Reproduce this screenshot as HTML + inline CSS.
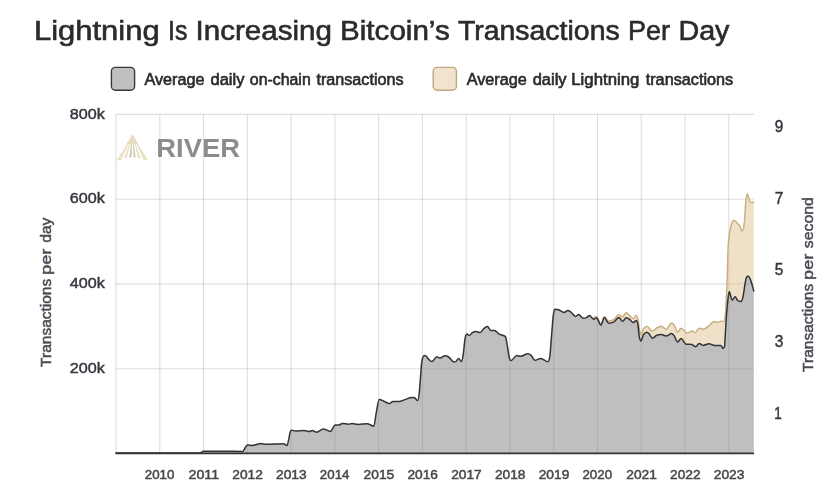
<!DOCTYPE html>
<html lang="en">
<head>
<meta charset="utf-8">
<title>Lightning Is Increasing Bitcoin’s Transactions Per Day</title>
<style>
html,body{margin:0;padding:0;background:#fff;}
body{width:834px;height:500px;overflow:hidden;font-family:"Liberation Sans",sans-serif;}
svg{display:block;}
svg text{font-family:"Liberation Sans",sans-serif;}
.grid line{stroke:#000;stroke-opacity:0.13;stroke-width:1.15;}
</style>
</head>
<body>
<svg width="834" height="500" viewBox="0 0 834 500">
<rect width="834" height="500" fill="#ffffff"/>

<rect x="111.4" y="67.4" width="23.2" height="22.8" rx="4" ry="4" fill="#c0c0c0" stroke="#3a3a3a" stroke-width="1.4"/>
<rect x="433.2" y="67.4" width="23.2" height="22.8" rx="4" ry="4" fill="#f1e3cd" stroke="#bca97f" stroke-width="1.4"/>

<g class="grid"><line x1="116" y1="114.4" x2="753.8" y2="114.4"/><line x1="116" y1="199.2" x2="753.8" y2="199.2"/><line x1="116" y1="283.9" x2="753.8" y2="283.9"/><line x1="116" y1="368.7" x2="753.8" y2="368.7"/><line x1="116.0" y1="114.4" x2="116.0" y2="453"/><line x1="159.8" y1="114.4" x2="159.8" y2="453"/><line x1="203.5" y1="114.4" x2="203.5" y2="453"/><line x1="247.3" y1="114.4" x2="247.3" y2="453"/><line x1="291.1" y1="114.4" x2="291.1" y2="453"/><line x1="334.9" y1="114.4" x2="334.9" y2="453"/><line x1="378.6" y1="114.4" x2="378.6" y2="453"/><line x1="422.4" y1="114.4" x2="422.4" y2="453"/><line x1="466.2" y1="114.4" x2="466.2" y2="453"/><line x1="509.9" y1="114.4" x2="509.9" y2="453"/><line x1="553.7" y1="114.4" x2="553.7" y2="453"/><line x1="597.5" y1="114.4" x2="597.5" y2="453"/><line x1="641.2" y1="114.4" x2="641.2" y2="453"/><line x1="685.0" y1="114.4" x2="685.0" y2="453"/><line x1="728.8" y1="114.4" x2="728.8" y2="453"/></g>

<g id="logo">
<polygon points="132.4,135.5 116.6,160.3 121.0,160.3" fill="#ebe1c5"/>
<polygon points="132.4,135.5 123.9,158.0 126.8,158.0" fill="#ebe1c5"/>
<polygon points="132.4,135.5 129.2,157.4 131.5,157.4" fill="#cfc8b2"/>
<polygon points="132.4,135.5 133.7,157.4 135.7,157.4" fill="#cfc8b2"/>
<polygon points="132.4,135.5 138.1,158.0 140.8,158.0" fill="#ebe1c5"/>
<polygon points="132.4,135.5 143.9,160.3 148.2,160.3" fill="#ebe1c5"/>
<polygon points="132.4,134.0 126.4,144.2 138.4,144.2" fill="#e8dcbf"/>
</g>

<path d="M592.4 318.4C593.8 317.4 595.2 316.4 596.6 316.4C598.0 316.4 599.4 323.6 600.8 323.6C602.0 323.6 603.2 316.8 604.4 316.8C605.8 316.8 607.2 321.2 608.6 321.2C610.4 321.2 612.2 320.6 614.0 319.4C615.6 318.3 617.2 314.6 618.8 314.6C620.0 314.6 621.2 317.0 622.4 317.0C623.7 317.0 625.0 312.7 626.3 312.7C627.4 312.7 628.5 314.7 629.6 315.6C630.8 316.6 632.0 318.6 633.2 318.6C634.2 318.6 635.2 315.4 636.2 315.4C636.8 315.4 637.4 316.7 638.0 319.2C638.6 321.7 639.2 328.6 639.8 331.2C640.3 333.5 640.9 334.8 641.4 334.8C642.1 334.8 642.7 329.7 643.4 328.8C644.6 327.2 645.8 326.4 647.0 326.4C648.8 326.4 650.6 331.0 652.4 331.0C654.0 331.0 655.6 328.4 657.2 327.6C658.6 326.9 660.0 326.2 661.4 326.2C663.0 326.2 664.6 329.4 666.2 329.4C668.0 329.4 669.8 323.0 671.6 323.0C672.6 323.0 673.6 324.3 674.6 325.8C675.6 327.3 676.6 332.2 677.6 332.2C678.8 332.2 680.0 328.2 681.2 328.2C683.2 328.2 685.2 333.0 687.2 333.0C688.8 333.0 690.4 331.0 692.0 331.0C693.0 331.0 694.0 332.6 695.0 332.6C696.4 332.6 697.8 328.2 699.2 328.2C700.4 328.2 701.6 329.2 702.8 329.2C705.1 329.2 707.3 327.3 709.6 325.4C710.9 324.3 712.1 321.6 713.4 321.6C714.7 321.6 716.0 322.4 717.3 322.4C718.6 322.4 719.8 321.1 721.1 321.1C721.9 321.1 722.7 321.6 723.5 321.6C724.1 321.6 724.6 320.0 725.2 316.8C725.5 314.9 725.9 306.6 726.2 300.0C726.6 292.1 727.0 285.6 727.4 272.0C727.6 266.3 727.7 257.9 727.9 252.8C728.2 243.7 728.5 241.9 728.8 238.4C729.4 231.8 729.9 231.2 730.5 228.5C731.5 223.6 732.6 220.3 733.6 220.3C734.6 220.3 735.5 221.4 736.5 222.3C737.8 223.5 739.0 224.0 740.3 227.0C740.8 228.2 741.3 231.2 741.8 231.2C742.4 231.2 743.1 229.8 743.7 226.9C744.0 225.4 744.4 222.5 744.7 218.4C745.0 214.7 745.3 207.7 745.6 204.0C745.9 199.9 746.3 197.6 746.6 195.9C746.9 194.6 747.1 193.9 747.4 193.9C747.8 193.9 748.1 195.7 748.5 196.8C749.0 198.2 749.5 200.9 750.0 201.6C750.5 202.3 750.9 202.6 751.4 202.6C752.2 202.6 753.0 202.2 753.8 201.9L753.8 291.0C753.3 289.2 752.9 287.4 752.4 285.8C751.6 283.0 750.8 280.3 750.0 278.6C749.3 277.2 748.7 275.9 748.0 275.9C747.5 275.9 747.1 276.3 746.6 277.1C746.1 278.0 745.6 280.8 745.1 283.4C744.5 286.7 743.8 292.9 743.2 295.9C742.4 299.7 741.6 301.6 740.8 301.6C739.8 301.6 738.9 301.3 737.9 300.7C737.0 300.1 736.0 296.8 735.1 296.8C734.1 296.8 733.2 300.2 732.2 300.2C731.7 300.2 731.2 297.4 730.7 295.9C730.2 294.5 729.8 291.5 729.3 291.5C728.8 291.5 728.4 295.7 727.9 299.7C727.4 304.0 726.9 309.7 726.4 316.8C726.1 321.1 725.8 326.5 725.5 331.2C725.2 336.4 724.8 345.7 724.5 346.6C724.0 347.9 723.6 348.5 723.1 348.5C722.3 348.5 721.5 345.4 720.7 345.4C718.7 345.4 716.6 345.5 714.6 345.5C712.7 345.5 710.9 343.7 709.0 343.7C707.1 343.7 705.1 345.4 703.2 345.4C701.9 345.4 700.5 343.4 699.2 343.4C698.0 343.4 696.8 346.8 695.6 346.8C694.4 346.8 693.2 344.5 692.0 344.4C690.0 344.3 688.0 344.3 686.0 344.2C684.4 344.1 682.8 338.6 681.2 338.6C680.0 338.6 678.8 342.0 677.6 342.0C676.4 342.0 675.2 336.8 674.0 335.4C673.2 334.5 672.4 333.6 671.6 333.6C669.8 333.6 668.0 336.0 666.2 336.0C664.6 336.0 663.0 334.6 661.4 334.6C660.0 334.6 658.6 334.7 657.2 335.0C655.6 335.3 654.0 338.2 652.4 338.2C651.4 338.2 650.4 335.3 649.4 334.2C648.6 333.4 647.8 332.2 647.0 332.2C645.8 332.2 644.6 333.1 643.4 334.8C642.6 336.0 641.8 341.0 641.0 341.0C640.4 341.0 639.8 339.3 639.2 336.0C638.7 333.4 638.3 326.0 637.8 324.0C637.3 321.7 636.7 320.6 636.2 320.6C635.2 320.6 634.2 322.6 633.2 322.6C632.0 322.6 630.8 320.2 629.6 319.4C628.5 318.6 627.4 317.7 626.3 317.7C625.1 317.7 623.8 321.3 622.6 321.3C621.3 321.3 620.1 317.6 618.8 317.6C617.2 317.6 615.6 321.0 614.0 321.8C612.2 322.7 610.4 323.2 608.6 323.2C607.2 323.2 605.8 317.6 604.4 317.6C603.2 317.6 602.0 325.2 600.8 325.2C599.4 325.2 598.0 318.0 596.6 318.0C595.6 318.0 594.6 319.2 593.6 319.2C593.2 319.2 592.8 318.8 592.4 318.4Z" fill="#d9b77c" fill-opacity="0.42" stroke="none"/>
<path d="M116.0 453.0C144.2 453.0 172.4 453.0 200.6 453.0C201.5 453.0 202.3 451.2 203.2 451.2C209.5 451.2 215.7 451.2 222.0 451.2C228.9 451.2 235.7 451.4 242.6 451.4C244.2 451.4 245.8 444.9 247.4 444.9C249.1 444.9 250.7 445.4 252.4 445.4C255.2 445.4 258.0 443.5 260.8 443.5C262.4 443.5 264.0 444.3 265.6 444.3C268.4 444.3 271.2 444.2 274.0 444.1C277.2 444.0 280.4 443.7 283.6 443.7C284.7 443.7 285.9 445.6 287.0 445.6C287.5 445.6 288.1 442.3 288.6 440.0C289.1 437.7 289.7 433.4 290.2 432.0C290.7 430.8 291.1 430.2 291.6 430.2C292.9 430.2 294.3 431.0 295.6 431.0C298.4 431.0 301.2 430.4 304.0 430.4C305.8 430.4 307.6 431.6 309.4 431.6C310.3 431.6 311.3 430.4 312.2 430.4C313.7 430.4 315.1 432.2 316.6 432.2C318.8 432.2 321.0 429.0 323.2 429.0C325.6 429.0 328.0 431.4 330.4 431.4C332.0 431.4 333.6 425.0 335.2 425.0C336.4 425.0 337.6 425.0 338.8 425.0C340.0 425.0 341.2 423.5 342.4 423.5C344.4 423.5 346.4 424.2 348.4 424.2C349.6 424.2 350.8 423.5 352.0 423.5C354.0 423.5 356.0 424.4 358.0 424.4C361.1 424.4 364.1 423.8 367.2 423.8C369.4 423.8 371.6 426.2 373.8 426.2C374.6 426.2 375.4 417.2 376.2 413.2C377.2 408.1 378.2 399.4 379.2 399.4C380.8 399.4 382.4 400.5 384.0 401.2C385.8 401.9 387.6 403.6 389.4 403.6C390.6 403.6 391.8 401.4 393.0 401.4C395.2 401.4 397.4 401.4 399.6 401.4C401.6 401.4 403.6 400.1 405.6 399.4C407.6 398.7 409.6 397.4 411.6 397.4C412.6 397.4 413.6 397.5 414.6 397.8C415.6 398.1 416.6 400.6 417.6 400.6C418.2 400.6 418.8 397.5 419.4 391.6C419.8 387.7 420.2 381.0 420.6 376.0C421.0 371.0 421.4 363.7 421.8 361.6C422.6 357.5 423.4 355.4 424.2 355.4C425.0 355.4 425.8 355.9 426.6 356.6C427.4 357.3 428.2 359.0 429.0 359.8C430.0 360.8 431.0 361.6 432.0 361.6C433.6 361.6 435.2 356.8 436.8 356.8C437.8 356.8 438.8 358.0 439.8 358.0C441.6 358.0 443.4 355.7 445.2 355.7C446.3 355.7 447.5 356.3 448.6 357.0C450.3 358.0 452.1 361.9 453.8 361.9C454.4 361.9 455.0 361.8 455.6 361.6C456.6 361.3 457.6 358.5 458.6 358.5C459.6 358.5 460.6 361.6 461.6 361.6C462.2 361.6 462.8 357.2 463.4 353.2C464.0 349.2 464.6 340.0 465.2 337.6C465.8 335.2 466.4 334.0 467.0 334.0C467.8 334.0 468.6 335.4 469.4 335.4C470.4 335.4 471.4 333.3 472.4 332.6C473.6 331.8 474.8 331.4 476.0 331.4C477.4 331.4 478.8 332.6 480.2 332.6C481.4 332.6 482.6 329.6 483.8 328.6C485.0 327.6 486.2 326.6 487.4 326.6C488.6 326.6 489.8 330.6 491.0 330.6C492.2 330.6 493.4 330.4 494.6 330.4C496.0 330.4 497.4 333.0 498.8 333.8C500.0 334.5 501.2 334.7 502.4 335.2C503.4 335.6 504.4 335.7 505.4 336.6C506.0 337.2 506.6 341.7 507.2 344.8C507.9 348.6 508.7 355.5 509.4 358.0C509.9 359.6 510.3 360.6 510.8 360.6C512.8 360.6 514.8 355.6 516.8 355.6C518.2 355.6 519.6 356.2 521.0 356.2C523.2 356.2 525.4 353.8 527.6 353.8C528.8 353.8 530.0 354.3 531.2 355.4C532.4 356.5 533.6 360.3 534.8 360.3C536.8 360.3 538.8 358.4 540.8 358.4C543.2 358.4 545.6 361.7 548.0 361.7C548.6 361.7 549.2 360.0 549.8 356.6C550.4 353.2 551.0 342.0 551.6 335.0C552.2 328.0 552.8 318.9 553.4 314.6C553.8 311.7 554.2 309.2 554.6 309.2C556.0 309.2 557.4 309.4 558.8 309.8C560.6 310.3 562.4 312.4 564.2 312.4C565.4 312.4 566.6 310.4 567.8 310.4C568.8 310.4 569.8 311.3 570.8 312.0C572.4 313.1 574.0 316.4 575.6 316.4C576.6 316.4 577.6 314.6 578.6 314.6C580.2 314.6 581.8 318.2 583.4 318.2C584.4 318.2 585.4 318.0 586.4 317.6C587.4 317.2 588.4 315.6 589.4 315.6C590.8 315.6 592.2 319.2 593.6 319.2C594.6 319.2 595.6 318.0 596.6 318.0C598.0 318.0 599.4 325.2 600.8 325.2C602.0 325.2 603.2 317.6 604.4 317.6C605.8 317.6 607.2 323.2 608.6 323.2C610.4 323.2 612.2 322.7 614.0 321.8C615.6 321.0 617.2 317.6 618.8 317.6C620.1 317.6 621.3 321.3 622.6 321.3C623.8 321.3 625.1 317.7 626.3 317.7C627.4 317.7 628.5 318.6 629.6 319.4C630.8 320.2 632.0 322.6 633.2 322.6C634.2 322.6 635.2 320.6 636.2 320.6C636.7 320.6 637.3 321.7 637.8 324.0C638.3 326.0 638.7 333.4 639.2 336.0C639.8 339.3 640.4 341.0 641.0 341.0C641.8 341.0 642.6 336.0 643.4 334.8C644.6 333.1 645.8 332.2 647.0 332.2C647.8 332.2 648.6 333.4 649.4 334.2C650.4 335.3 651.4 338.2 652.4 338.2C654.0 338.2 655.6 335.3 657.2 335.0C658.6 334.7 660.0 334.6 661.4 334.6C663.0 334.6 664.6 336.0 666.2 336.0C668.0 336.0 669.8 333.6 671.6 333.6C672.4 333.6 673.2 334.5 674.0 335.4C675.2 336.8 676.4 342.0 677.6 342.0C678.8 342.0 680.0 338.6 681.2 338.6C682.8 338.6 684.4 344.1 686.0 344.2C688.0 344.3 690.0 344.3 692.0 344.4C693.2 344.5 694.4 346.8 695.6 346.8C696.8 346.8 698.0 343.4 699.2 343.4C700.5 343.4 701.9 345.4 703.2 345.4C705.1 345.4 707.1 343.7 709.0 343.7C710.9 343.7 712.7 345.5 714.6 345.5C716.6 345.5 718.7 345.4 720.7 345.4C721.5 345.4 722.3 348.5 723.1 348.5C723.6 348.5 724.0 347.9 724.5 346.6C724.8 345.7 725.2 336.4 725.5 331.2C725.8 326.5 726.1 321.1 726.4 316.8C726.9 309.7 727.4 304.0 727.9 299.7C728.4 295.7 728.8 291.5 729.3 291.5C729.8 291.5 730.2 294.5 730.7 295.9C731.2 297.4 731.7 300.2 732.2 300.2C733.2 300.2 734.1 296.8 735.1 296.8C736.0 296.8 737.0 300.1 737.9 300.7C738.9 301.3 739.8 301.6 740.8 301.6C741.6 301.6 742.4 299.7 743.2 295.9C743.8 292.9 744.5 286.7 745.1 283.4C745.6 280.8 746.1 278.0 746.6 277.1C747.1 276.3 747.5 275.9 748.0 275.9C748.7 275.9 749.3 277.2 750.0 278.6C750.8 280.3 751.6 283.0 752.4 285.8C752.9 287.4 753.3 289.2 753.8 291.0L753.8 453L116 453Z" fill="#808080" fill-opacity="0.5" stroke="none"/>
<path d="M592.4 318.4C593.8 317.4 595.2 316.4 596.6 316.4C598.0 316.4 599.4 323.6 600.8 323.6C602.0 323.6 603.2 316.8 604.4 316.8C605.8 316.8 607.2 321.2 608.6 321.2C610.4 321.2 612.2 320.6 614.0 319.4C615.6 318.3 617.2 314.6 618.8 314.6C620.0 314.6 621.2 317.0 622.4 317.0C623.7 317.0 625.0 312.7 626.3 312.7C627.4 312.7 628.5 314.7 629.6 315.6C630.8 316.6 632.0 318.6 633.2 318.6C634.2 318.6 635.2 315.4 636.2 315.4C636.8 315.4 637.4 316.7 638.0 319.2C638.6 321.7 639.2 328.6 639.8 331.2C640.3 333.5 640.9 334.8 641.4 334.8C642.1 334.8 642.7 329.7 643.4 328.8C644.6 327.2 645.8 326.4 647.0 326.4C648.8 326.4 650.6 331.0 652.4 331.0C654.0 331.0 655.6 328.4 657.2 327.6C658.6 326.9 660.0 326.2 661.4 326.2C663.0 326.2 664.6 329.4 666.2 329.4C668.0 329.4 669.8 323.0 671.6 323.0C672.6 323.0 673.6 324.3 674.6 325.8C675.6 327.3 676.6 332.2 677.6 332.2C678.8 332.2 680.0 328.2 681.2 328.2C683.2 328.2 685.2 333.0 687.2 333.0C688.8 333.0 690.4 331.0 692.0 331.0C693.0 331.0 694.0 332.6 695.0 332.6C696.4 332.6 697.8 328.2 699.2 328.2C700.4 328.2 701.6 329.2 702.8 329.2C705.1 329.2 707.3 327.3 709.6 325.4C710.9 324.3 712.1 321.6 713.4 321.6C714.7 321.6 716.0 322.4 717.3 322.4C718.6 322.4 719.8 321.1 721.1 321.1C721.9 321.1 722.7 321.6 723.5 321.6C724.1 321.6 724.6 320.0 725.2 316.8C725.5 314.9 725.9 306.6 726.2 300.0C726.6 292.1 727.0 285.6 727.4 272.0C727.6 266.3 727.7 257.9 727.9 252.8C728.2 243.7 728.5 241.9 728.8 238.4C729.4 231.8 729.9 231.2 730.5 228.5C731.5 223.6 732.6 220.3 733.6 220.3C734.6 220.3 735.5 221.4 736.5 222.3C737.8 223.5 739.0 224.0 740.3 227.0C740.8 228.2 741.3 231.2 741.8 231.2C742.4 231.2 743.1 229.8 743.7 226.9C744.0 225.4 744.4 222.5 744.7 218.4C745.0 214.7 745.3 207.7 745.6 204.0C745.9 199.9 746.3 197.6 746.6 195.9C746.9 194.6 747.1 193.9 747.4 193.9C747.8 193.9 748.1 195.7 748.5 196.8C749.0 198.2 749.5 200.9 750.0 201.6C750.5 202.3 750.9 202.6 751.4 202.6C752.2 202.6 753.0 202.2 753.8 201.9" fill="none" stroke="#c6ad7d" stroke-width="1.4" stroke-linejoin="round" stroke-linecap="round"/>
<path d="M116.0 453.0C144.2 453.0 172.4 453.0 200.6 453.0C201.5 453.0 202.3 451.2 203.2 451.2C209.5 451.2 215.7 451.2 222.0 451.2C228.9 451.2 235.7 451.4 242.6 451.4C244.2 451.4 245.8 444.9 247.4 444.9C249.1 444.9 250.7 445.4 252.4 445.4C255.2 445.4 258.0 443.5 260.8 443.5C262.4 443.5 264.0 444.3 265.6 444.3C268.4 444.3 271.2 444.2 274.0 444.1C277.2 444.0 280.4 443.7 283.6 443.7C284.7 443.7 285.9 445.6 287.0 445.6C287.5 445.6 288.1 442.3 288.6 440.0C289.1 437.7 289.7 433.4 290.2 432.0C290.7 430.8 291.1 430.2 291.6 430.2C292.9 430.2 294.3 431.0 295.6 431.0C298.4 431.0 301.2 430.4 304.0 430.4C305.8 430.4 307.6 431.6 309.4 431.6C310.3 431.6 311.3 430.4 312.2 430.4C313.7 430.4 315.1 432.2 316.6 432.2C318.8 432.2 321.0 429.0 323.2 429.0C325.6 429.0 328.0 431.4 330.4 431.4C332.0 431.4 333.6 425.0 335.2 425.0C336.4 425.0 337.6 425.0 338.8 425.0C340.0 425.0 341.2 423.5 342.4 423.5C344.4 423.5 346.4 424.2 348.4 424.2C349.6 424.2 350.8 423.5 352.0 423.5C354.0 423.5 356.0 424.4 358.0 424.4C361.1 424.4 364.1 423.8 367.2 423.8C369.4 423.8 371.6 426.2 373.8 426.2C374.6 426.2 375.4 417.2 376.2 413.2C377.2 408.1 378.2 399.4 379.2 399.4C380.8 399.4 382.4 400.5 384.0 401.2C385.8 401.9 387.6 403.6 389.4 403.6C390.6 403.6 391.8 401.4 393.0 401.4C395.2 401.4 397.4 401.4 399.6 401.4C401.6 401.4 403.6 400.1 405.6 399.4C407.6 398.7 409.6 397.4 411.6 397.4C412.6 397.4 413.6 397.5 414.6 397.8C415.6 398.1 416.6 400.6 417.6 400.6C418.2 400.6 418.8 397.5 419.4 391.6C419.8 387.7 420.2 381.0 420.6 376.0C421.0 371.0 421.4 363.7 421.8 361.6C422.6 357.5 423.4 355.4 424.2 355.4C425.0 355.4 425.8 355.9 426.6 356.6C427.4 357.3 428.2 359.0 429.0 359.8C430.0 360.8 431.0 361.6 432.0 361.6C433.6 361.6 435.2 356.8 436.8 356.8C437.8 356.8 438.8 358.0 439.8 358.0C441.6 358.0 443.4 355.7 445.2 355.7C446.3 355.7 447.5 356.3 448.6 357.0C450.3 358.0 452.1 361.9 453.8 361.9C454.4 361.9 455.0 361.8 455.6 361.6C456.6 361.3 457.6 358.5 458.6 358.5C459.6 358.5 460.6 361.6 461.6 361.6C462.2 361.6 462.8 357.2 463.4 353.2C464.0 349.2 464.6 340.0 465.2 337.6C465.8 335.2 466.4 334.0 467.0 334.0C467.8 334.0 468.6 335.4 469.4 335.4C470.4 335.4 471.4 333.3 472.4 332.6C473.6 331.8 474.8 331.4 476.0 331.4C477.4 331.4 478.8 332.6 480.2 332.6C481.4 332.6 482.6 329.6 483.8 328.6C485.0 327.6 486.2 326.6 487.4 326.6C488.6 326.6 489.8 330.6 491.0 330.6C492.2 330.6 493.4 330.4 494.6 330.4C496.0 330.4 497.4 333.0 498.8 333.8C500.0 334.5 501.2 334.7 502.4 335.2C503.4 335.6 504.4 335.7 505.4 336.6C506.0 337.2 506.6 341.7 507.2 344.8C507.9 348.6 508.7 355.5 509.4 358.0C509.9 359.6 510.3 360.6 510.8 360.6C512.8 360.6 514.8 355.6 516.8 355.6C518.2 355.6 519.6 356.2 521.0 356.2C523.2 356.2 525.4 353.8 527.6 353.8C528.8 353.8 530.0 354.3 531.2 355.4C532.4 356.5 533.6 360.3 534.8 360.3C536.8 360.3 538.8 358.4 540.8 358.4C543.2 358.4 545.6 361.7 548.0 361.7C548.6 361.7 549.2 360.0 549.8 356.6C550.4 353.2 551.0 342.0 551.6 335.0C552.2 328.0 552.8 318.9 553.4 314.6C553.8 311.7 554.2 309.2 554.6 309.2C556.0 309.2 557.4 309.4 558.8 309.8C560.6 310.3 562.4 312.4 564.2 312.4C565.4 312.4 566.6 310.4 567.8 310.4C568.8 310.4 569.8 311.3 570.8 312.0C572.4 313.1 574.0 316.4 575.6 316.4C576.6 316.4 577.6 314.6 578.6 314.6C580.2 314.6 581.8 318.2 583.4 318.2C584.4 318.2 585.4 318.0 586.4 317.6C587.4 317.2 588.4 315.6 589.4 315.6C590.8 315.6 592.2 319.2 593.6 319.2C594.6 319.2 595.6 318.0 596.6 318.0C598.0 318.0 599.4 325.2 600.8 325.2C602.0 325.2 603.2 317.6 604.4 317.6C605.8 317.6 607.2 323.2 608.6 323.2C610.4 323.2 612.2 322.7 614.0 321.8C615.6 321.0 617.2 317.6 618.8 317.6C620.1 317.6 621.3 321.3 622.6 321.3C623.8 321.3 625.1 317.7 626.3 317.7C627.4 317.7 628.5 318.6 629.6 319.4C630.8 320.2 632.0 322.6 633.2 322.6C634.2 322.6 635.2 320.6 636.2 320.6C636.7 320.6 637.3 321.7 637.8 324.0C638.3 326.0 638.7 333.4 639.2 336.0C639.8 339.3 640.4 341.0 641.0 341.0C641.8 341.0 642.6 336.0 643.4 334.8C644.6 333.1 645.8 332.2 647.0 332.2C647.8 332.2 648.6 333.4 649.4 334.2C650.4 335.3 651.4 338.2 652.4 338.2C654.0 338.2 655.6 335.3 657.2 335.0C658.6 334.7 660.0 334.6 661.4 334.6C663.0 334.6 664.6 336.0 666.2 336.0C668.0 336.0 669.8 333.6 671.6 333.6C672.4 333.6 673.2 334.5 674.0 335.4C675.2 336.8 676.4 342.0 677.6 342.0C678.8 342.0 680.0 338.6 681.2 338.6C682.8 338.6 684.4 344.1 686.0 344.2C688.0 344.3 690.0 344.3 692.0 344.4C693.2 344.5 694.4 346.8 695.6 346.8C696.8 346.8 698.0 343.4 699.2 343.4C700.5 343.4 701.9 345.4 703.2 345.4C705.1 345.4 707.1 343.7 709.0 343.7C710.9 343.7 712.7 345.5 714.6 345.5C716.6 345.5 718.7 345.4 720.7 345.4C721.5 345.4 722.3 348.5 723.1 348.5C723.6 348.5 724.0 347.9 724.5 346.6C724.8 345.7 725.2 336.4 725.5 331.2C725.8 326.5 726.1 321.1 726.4 316.8C726.9 309.7 727.4 304.0 727.9 299.7C728.4 295.7 728.8 291.5 729.3 291.5C729.8 291.5 730.2 294.5 730.7 295.9C731.2 297.4 731.7 300.2 732.2 300.2C733.2 300.2 734.1 296.8 735.1 296.8C736.0 296.8 737.0 300.1 737.9 300.7C738.9 301.3 739.8 301.6 740.8 301.6C741.6 301.6 742.4 299.7 743.2 295.9C743.8 292.9 744.5 286.7 745.1 283.4C745.6 280.8 746.1 278.0 746.6 277.1C747.1 276.3 747.5 275.9 748.0 275.9C748.7 275.9 749.3 277.2 750.0 278.6C750.8 280.3 751.6 283.0 752.4 285.8C752.9 287.4 753.3 289.2 753.8 291.0" fill="none" stroke="#333333" stroke-width="1.5" stroke-linejoin="round" stroke-linecap="round"/>
<line x1="115.6" y1="453.4" x2="754" y2="453.4" stroke="#333333" stroke-width="1.7"/>

<g id="title" font-size="27.6" fill="#2b2b2b" stroke="#2b2b2b" stroke-width="0.6">
<text transform="translate(33.96 39.80) scale(1.1220 1)">Lightning</text>
<text transform="translate(168.00 39.80) scale(0.9000 1)">Is</text>
<text transform="translate(195.56 39.80) scale(1.0710 1)">Increasing</text>
<text transform="translate(340.06 39.80) scale(1.0720 1)">Bitcoin’s</text>
<text transform="translate(457.90 39.80) scale(1.0314 1)">Transactions</text>
<text transform="translate(627.94 39.80) scale(0.9780 1)">Per</text>
<text transform="translate(678.42 39.80) scale(1.0404 1)">Day</text>
</g>
<g id="legend1" font-size="15.6" fill="#2b2b2b" stroke="#2b2b2b" stroke-width="0.6">
<text transform="translate(144.40 84.70) scale(1.0414 1)">Average</text>
<text transform="translate(210.50 84.70) scale(1.0594 1)">daily</text>
<text transform="translate(249.80 84.70) scale(1.0186 1)">on-chain</text>
<text transform="translate(316.40 84.70) scale(1.0369 1)">transactions</text>
</g>
<g id="legend2" font-size="15.6" fill="#2b2b2b" stroke="#2b2b2b" stroke-width="0.6">
<text transform="translate(466.70 84.70) scale(1.0397 1)">Average</text>
<text transform="translate(532.70 84.70) scale(1.0562 1)">daily</text>
<text transform="translate(571.22 84.70) scale(1.0774 1)">Lightning</text>
<text transform="translate(645.70 84.70) scale(1.0405 1)">transactions</text>
</g>
<g id="ylab" font-size="15.2" fill="#4a4a55" stroke="#4a4a55" stroke-width="0.5">
<text transform="translate(51.20 366.90) rotate(-90) scale(1.0198 1)">Transactions</text>
<text transform="translate(51.20 275.00) rotate(-90) scale(1.2000 1)">per</text>
<text transform="translate(51.20 242.80) rotate(-90) scale(1.0280 1)">day</text>
</g>
<g id="yrlab" font-size="15.2" fill="#4a4a55" stroke="#4a4a55" stroke-width="0.5">
<text transform="translate(813.40 371.90) rotate(-90) scale(1.0198 1)">Transactions</text>
<text transform="translate(813.40 279.90) rotate(-90) scale(1.1952 1)">per</text>
<text transform="translate(813.40 248.20) rotate(-90) scale(1.0437 1)">second</text>
</g>
<g id="ytick" font-size="15.0" fill="#36363f" stroke="#36363f" stroke-width="0.45">
<text transform="translate(69.70 118.60) scale(1.0788 1)">800k</text>
<text transform="translate(69.70 203.40) scale(1.0788 1)">600k</text>
<text transform="translate(69.70 288.10) scale(1.0788 1)">400k</text>
<text transform="translate(69.70 372.90) scale(1.0788 1)">200k</text>
</g>
<g id="yrtick" font-size="15.8" fill="#36363f" stroke="#36363f" stroke-width="0.45">
<text transform="translate(774.70 131.60) scale(0.9750 1)">9</text>
<text transform="translate(774.70 203.50) scale(0.9750 1)">7</text>
<text transform="translate(774.70 275.40) scale(0.9750 1)">5</text>
<text transform="translate(774.70 347.30) scale(0.9750 1)">3</text>
<text transform="translate(774.14 419.10) scale(0.8571 1)">1</text>
</g>
<g id="xtick" font-size="13.3" fill="#474747" stroke="#474747" stroke-width="0.5">
<text transform="translate(144.77 479.40) scale(1.0000 1)">2010</text>
<text transform="translate(188.54 479.40) scale(1.0714 1)">2011</text>
<text transform="translate(232.31 479.40) scale(1.0345 1)">2012</text>
<text transform="translate(276.08 479.40) scale(1.0345 1)">2013</text>
<text transform="translate(319.85 479.40) scale(1.0000 1)">2014</text>
<text transform="translate(363.62 479.40) scale(1.0345 1)">2015</text>
<text transform="translate(407.39 479.40) scale(1.0345 1)">2016</text>
<text transform="translate(451.16 479.40) scale(1.0345 1)">2017</text>
<text transform="translate(494.93 479.40) scale(1.0345 1)">2018</text>
<text transform="translate(538.70 479.40) scale(1.0345 1)">2019</text>
<text transform="translate(582.47 479.40) scale(1.0000 1)">2020</text>
<text transform="translate(626.24 479.40) scale(1.0345 1)">2021</text>
<text transform="translate(670.01 479.40) scale(1.0345 1)">2022</text>
<text transform="translate(713.78 479.40) scale(1.0345 1)">2023</text>
</g>
<g id="rivertext" font-size="25" fill="#8c8c8c" stroke="#8c8c8c" stroke-width="0" font-weight="bold">
<text transform="translate(156.31 156.60) scale(1.0959 1)">RIVER</text>
</g>
</svg>
</body>
</html>
